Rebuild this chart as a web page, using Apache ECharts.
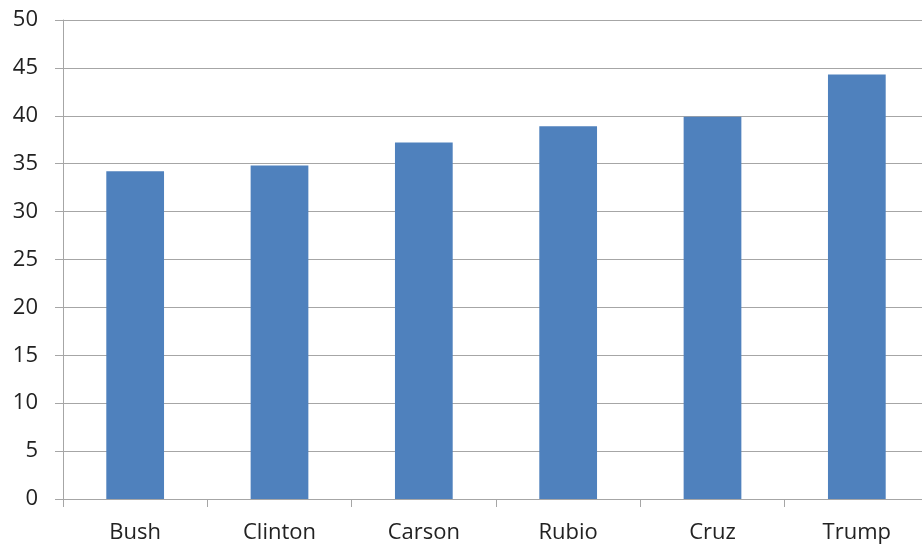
<!DOCTYPE html>
<html>
<head>
<meta charset="utf-8">
<script src="https://cdn.jsdelivr.net/npm/echarts@6/dist/echarts.min.js"></script>
<style>
  html, body { margin: 0; padding: 0; background: #fff; }
  #chart { width: 922px; height: 548px; }
</style>
</head>
<body>
<div id="chart"></div>
<script>
// Candidates along the category axis
const candidates = ['Bush', 'Clinton', 'Carson', 'Rubio', 'Cruz', 'Trump'];
// Value for each candidate
const values = [34.2, 34.8, 37.2, 38.9, 39.9, 44.3];
// Value axis range and step
const yMin = 0;
const yMax = 50;
const yStep = 5;

const chart = echarts.init(document.getElementById('chart'), null, { renderer: 'canvas' });

const labelFont = { fontFamily: '"Open Sans", "Noto Sans", sans-serif', fontSize: 22, color: '#222' };
const lineGray = '#a6a6a6';

chart.setOption({
  animation: false,
  backgroundColor: '#ffffff',
  // plot area runs a few pixels past the right edge of the canvas
  grid: { left: 63, width: 866, top: 20, bottom: 49, containLabel: false, outerBoundsMode: 'none' },
  xAxis: {
    type: 'category',
    data: candidates,
    boundaryGap: true,
    axisLine: { show: true, lineStyle: { color: lineGray, width: 1 } },
    axisTick: { show: true, alignWithLabel: false, length: 8, lineStyle: { color: lineGray } },
    axisLabel: Object.assign({ margin: 23 }, labelFont),
    splitLine: { show: false }
  },
  yAxis: {
    type: 'value',
    min: yMin,
    max: yMax,
    interval: yStep,
    axisLine: { show: true, lineStyle: { color: lineGray, width: 1 } },
    axisTick: { show: true, length: 8, lineStyle: { color: lineGray } },
    axisLabel: Object.assign({ margin: 25 }, labelFont),
    splitLine: { show: true, lineStyle: { color: lineGray, width: 1 } }
  },
  series: [{
    type: 'bar',
    data: values,
    barWidth: '40%',
    itemStyle: { color: '#4F81BD' }
  }]
});
</script>
</body>
</html>
